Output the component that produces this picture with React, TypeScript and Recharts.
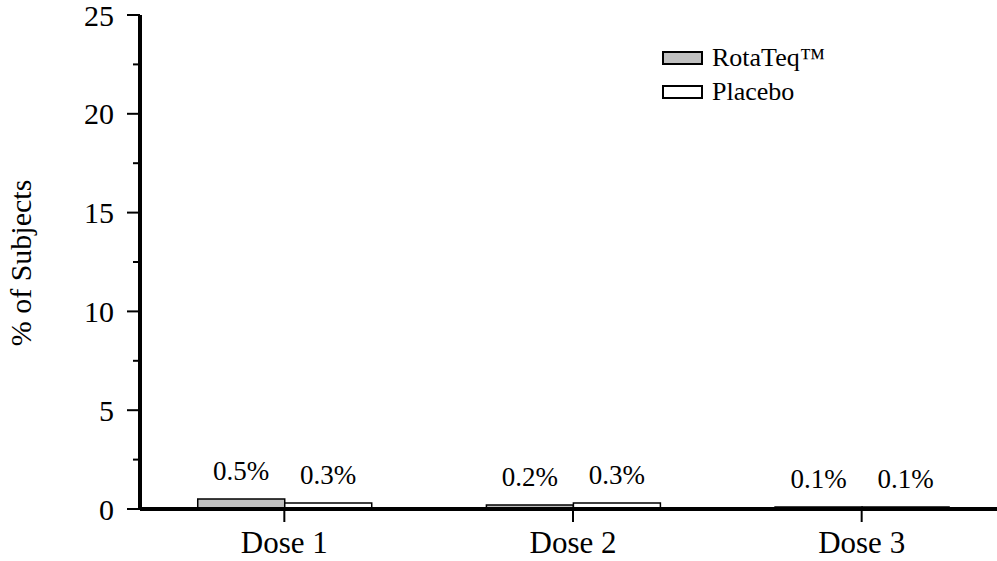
import { BarChart, Bar, XAxis, YAxis, Legend, LabelList } from 'recharts';

const doses = ['Dose 1', 'Dose 2', 'Dose 3'];
const rotateq = [0.5, 0.2, 0.1];
const placebo = [0.3, 0.3, 0.1];
const yTicks = [0, 2.5, 5, 7.5, 10, 12.5, 15, 17.5, 20, 22.5, 25];

const FONT = '"Liberation Serif", "Times New Roman", serif';
const AXIS_X = 140;

const chartData = doses.map((dose, i) => ({
  dose,
  rotateq: rotateq[i],
  placebo: placebo[i],
}));

const series = [
  { key: 'rotateq', name: 'RotaTeq\u2122', fill: '#c0c0c0' },
  { key: 'placebo', name: 'Placebo', fill: '#ffffff' },
];

// major ticks every 5 get a label, minor ones are a short mark only
const YTick = ({ x, y, payload }: any) => {
  const major = payload.value % 5 === 0;
  return (
    <g>
      <line x1={AXIS_X - (major ? 13 : 7)} x2={AXIS_X} y1={y} y2={y} stroke="#000" strokeWidth={2} />
      {major && (
        <text x={x} y={y} dy="0.35em" textAnchor="end" fill="#000" fontSize={30} fontFamily={FONT}>
          {payload.value}
        </text>
      )}
    </g>
  );
};

const LegendBox = () => (
  <div style={{ fontFamily: FONT, fontSize: 26, color: '#000' }}>
    {series.map((s) => (
      <div key={s.key} style={{ display: 'flex', alignItems: 'center', height: 34 }}>
        <span
          style={{
            display: 'inline-block',
            width: 37,
            height: 10,
            background: s.fill,
            border: '2px solid #000',
            marginRight: 9,
          }}
        />
        <span>{s.name}</span>
      </div>
    ))}
  </div>
);

export default function App() {
  return (
    <div style={{ position: 'absolute', left: 0, top: 0, width: 997, height: 561, overflow: 'hidden', background: '#fff' }}>
      <BarChart
        width={1010}
        height={561}
        data={chartData}
        margin={{ top: 15, right: 4, bottom: 0, left: 0 }}
        barCategoryGap="20%"
        barGap={0}
      >
        <XAxis
          dataKey="dose"
          height={52}
          axisLine={{ stroke: '#000', strokeWidth: 4 }}
          tickLine={{ stroke: '#000', strokeWidth: 2 }}
          tickSize={13}
          tickMargin={9}
          tick={{ fill: '#000', fontSize: 31, fontFamily: FONT }}
        />
        <YAxis
          width={AXIS_X}
          domain={[0, 25]}
          ticks={yTicks}
          interval={0}
          axisLine={{ stroke: '#000', strokeWidth: 4 }}
          tickLine={false}
          tickSize={13}
          tickMargin={13}
          tick={<YTick />}
          label={{
            content: () => (
              <text
                x={31}
                y={263}
                transform="rotate(-90, 31, 263)"
                textAnchor="middle"
                fill="#000"
                fontSize={30}
                fontFamily={FONT}
              >
                % of Subjects
              </text>
            ),
          }}
        />
        <Legend
          layout="vertical"
          align="center"
          verticalAlign="middle"
          content={<LegendBox />}
          wrapperStyle={{ top: 41, left: 662, width: 200, height: 70 }}
        />
        {series.map((s) => (
          <Bar
            key={s.key}
            dataKey={s.key}
            name={s.name}
            fill={s.fill}
            stroke="#000"
            strokeWidth={1.5}
            isAnimationActive={false}
          >
            <LabelList
              dataKey={s.key}
              position="top"
              offset={19}
              formatter={(v: any) => `${v}%`}
              fill="#000"
              fontSize={27}
              fontFamily={FONT}
            />
          </Bar>
        ))}
      </BarChart>
    </div>
  );
}
